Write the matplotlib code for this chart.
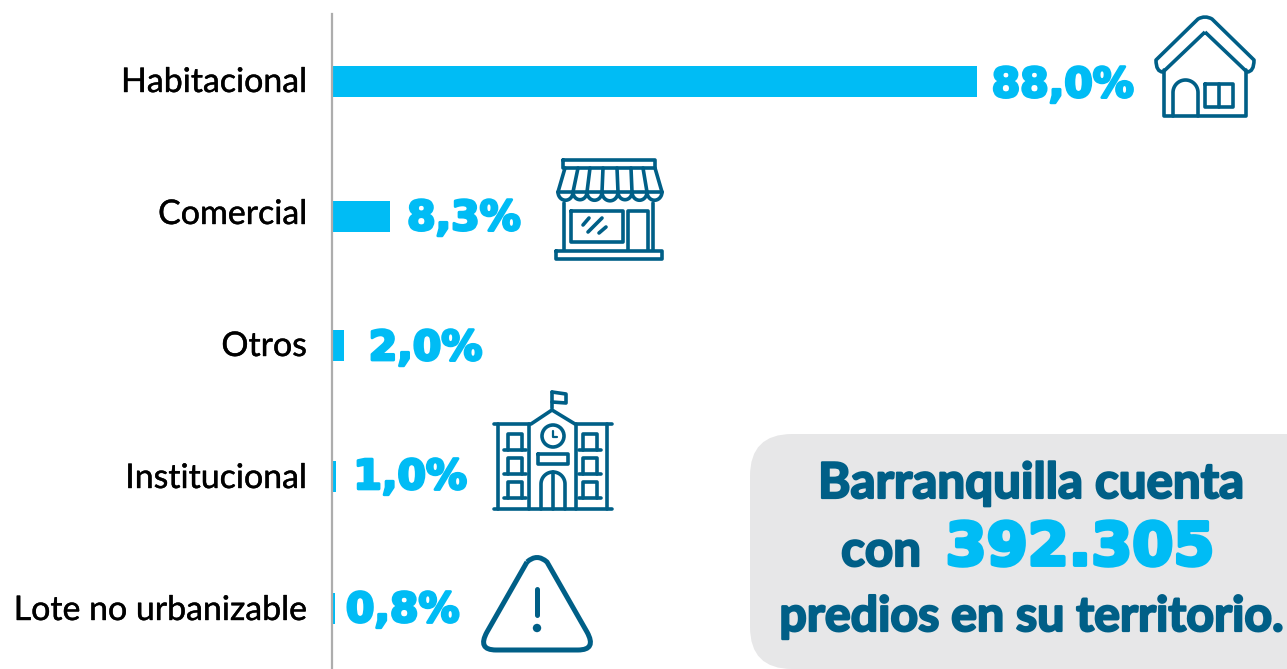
import numpy as np
import matplotlib
matplotlib.use('Agg')
import matplotlib.pyplot as plt
import matplotlib.patheffects as pe
from matplotlib.patches import FancyBboxPatch, Circle, PathPatch
from matplotlib.path import Path

categories = ['Habitacional', 'Comercial', 'Otros', 'Institucional', 'Lote no urbanizable']
values     = [88.0, 8.3, 2.0, 1.0, 0.8]
labels     = ['88,0%', '8,3%', '2,0%', '1,0%', '0,8%']

CYAN = '#00bcf5'
BLUE = '#005f87'
W, H = 1287, 669

plt.rcParams['font.family'] = ['Lato', 'DejaVu Sans']

fig = plt.figure(figsize=(W/100, H/100), dpi=100, facecolor='white')

# pixel overlay for the box and the icons
ov = fig.add_axes([0, 0, 1, 1], zorder=1)
ov.set_xlim(0, W)
ov.set_ylim(H, 0)
ov.axis('off')

# bar axes, spine sits at x=332, top at y=14
px_per_unit = 7.36
ax = fig.add_axes([332/W, 0, (W-332)/W, (H-14)/H], zorder=2)
ax.patch.set_alpha(0)
x0 = 3/px_per_unit
ax.set_xlim(x0, x0 + (W-332)/px_per_unit)
ax.set_ylim((H-79)/132, (14-79)/132)
# bars are not quite on the label rows in the original
bar_pos = [0.019, 1.042, 2.019, 3.011, 4.011]
ax.barh(bar_pos, values, height=31/132, color=CYAN)
for s in ['top', 'right', 'bottom']:
    ax.spines[s].set_visible(False)
ax.spines['left'].set_color('#adadad')
ax.spines['left'].set_linewidth(1.6)
ax.set_xticks([])
ax.set_yticks(range(len(categories)))
ax.set_yticklabels(categories, fontsize=24.4, color='black')
ax.tick_params(axis='y', length=0, pad=18)
for t in ax.get_yticklabels():
    t.set_path_effects([pe.withStroke(linewidth=0.3, foreground='black')])

def bold_text(x, y, s, color, size, lw=1.6, ha='left', family=None):
    return ov.text(x, y, s, color=color, fontsize=size, ha=ha, va='baseline', fontweight='bold',
                   family=family or ['Lato', 'DejaVu Sans'],
                   path_effects=[pe.withStroke(linewidth=lw, foreground=color, capstyle='round', joinstyle='round')],
                   zorder=5)

# value labels, gap to the bar end and height vary in the original
gaps = [15, 17, 25, 17, 11]
drops = [15.5, 13.5, 14.5, 12.5, 13.5]
for i, lab in enumerate(labels):
    ax.annotate(lab, (values[i], bar_pos[i]), xytext=(gaps[i]*0.72, -drops[i]*0.72), textcoords='offset points',
                va='baseline', ha='left', color=CYAN, fontsize=29.5, fontweight='bold', family='DejaVu Sans',
                path_effects=[pe.withStroke(linewidth=2.0, foreground=CYAN, capstyle='round', joinstyle='round')])

# note box, runs off the right edge
ov.add_patch(FancyBboxPatch((792, 476), W+100-792, 669-476-42, boxstyle='round,pad=42,rounding_size=42',
                            fc='#e7e7e8', ec='none', zorder=1))
bold_text(1031, 498, 'Barranquilla cuenta', BLUE, 35.5, ha='center')
bold_text(881, 566, 'con', BLUE, 35.5, ha='center')
bold_text(1080, 565, '392.305', CYAN, 42.5, lw=2.8, ha='center', family='DejaVu Sans')
bold_text(1032, 631, 'predios en su territorio.', BLUE, 34.8, ha='center')

LW = 2.6
def line(xs, ys, lw=LW, close=False):
    if close:
        xs, ys = list(xs)+[xs[0]], list(ys)+[ys[0]]
    ov.plot(xs, ys, color=BLUE, lw=lw, solid_capstyle='round', solid_joinstyle='round', zorder=4)

def box(x0, y0, x1, y1, lw=LW):
    line([x0, x1, x1, x0], [y0, y0, y1, y1], lw=lw, close=True)

def arch(x0, x1, ytop, ybot, lw=LW):
    r = (x1-x0)/2
    t = np.linspace(np.pi, 2*np.pi, 30)
    xs = [x0] + list((x0+x1)/2 + r*np.cos(t)) + [x1]
    ys = [ybot] + list(ytop + r + r*np.sin(t)) + [ybot]
    line(xs, ys, lw=lw)

def house():
    # roof band
    verts = [(1205, 32), (1163, 72), (1156, 72), (1156, 60), (1198, 19), (1205, 15), (1212, 19),
             (1254, 60), (1254, 72), (1247, 72), (1205, 32)]
    codes = [Path.MOVETO, Path.LINETO, Path.CURVE3, Path.CURVE3, Path.LINETO, Path.CURVE3, Path.CURVE3,
             Path.LINETO, Path.CURVE3, Path.CURVE3, Path.LINETO]
    ov.add_patch(PathPatch(Path(verts, codes), fc='none', ec=BLUE, lw=LW, joinstyle='round', zorder=4))
    line([1164, 1164, 1246, 1246], [70, 116, 116, 70])
    arch(1173, 1198, 80, 116)
    box(1205, 84, 1233, 107)
    line([1219, 1219], [84, 107])

def shop():
    box(563, 160, 655, 168)
    # awning panels
    top = [565, 578, 590, 603, 617, 631, 643, 655]
    bot = [558, 573, 587, 602, 618, 632, 647, 662]
    for t, b in zip(top, bot):
        line([t, b], [168, 192])
    line([558, 662], [192, 192])
    # scallops
    for xa, xb in zip(bot[:-1], bot[1:]):
        r = (xb-xa)/2
        th = np.linspace(0, np.pi, 20)
        line((xa+xb)/2 + r*np.cos(th), 192 + r*np.sin(th)*1.1)
    line([564, 564], [203, 250])
    line([653, 653], [203, 250])
    box(556, 251, 662, 259)
    box(571, 211, 623, 242)
    line([628, 628, 648, 648], [250, 211, 211, 250])
    line([583, 589], [225, 218])
    line([588, 602], [232, 218])
    line([599, 606], [233, 227])

def school():
    line([552, 552], [392, 408])
    line([552, 566, 566, 552], [392, 394, 403, 402])
    line([494, 531, 552, 575, 612], [424, 424, 410, 424, 424])
    for x in [498, 529, 576, 607]:
        line([x, x], [424, 509])
    line([494, 612], [509, 509])
    ov.add_patch(Circle((553, 436), 11, fc='none', ec=BLUE, lw=LW, zorder=4))
    line([553, 553, 557], [431, 437, 437], lw=1.6)
    box(538, 454, 568, 464)
    arch(541, 565, 472, 509)
    line([553, 553], [472, 509])
    for xw in [508, 583]:
        for yw in [434, 458, 482]:
            line([xw, xw, xw+14, xw+14], [yw+16, yw, yw, yw+16])
            line([xw-4, xw+18], [yw+16, yw+16])

def warning():
    verts = [(527, 562), (537, 553), (547, 562), (587, 632), (597, 650), (578, 650), (496, 650),
             (477, 650), (487, 632), (527, 562)]
    codes = [Path.MOVETO, Path.CURVE3, Path.CURVE3, Path.LINETO, Path.CURVE3, Path.CURVE3, Path.LINETO,
             Path.CURVE3, Path.CURVE3, Path.LINETO]
    ov.add_patch(PathPatch(Path(verts, codes), fc='none', ec=BLUE, lw=3.6, joinstyle='round', zorder=4))
    line([537, 537], [589, 615], lw=3.6)
    ov.add_patch(Circle((537, 628), 4.2, fc=BLUE, ec='none', zorder=4))

house()
shop()
school()
warning()

fig.savefig('out.png', dpi=100)
